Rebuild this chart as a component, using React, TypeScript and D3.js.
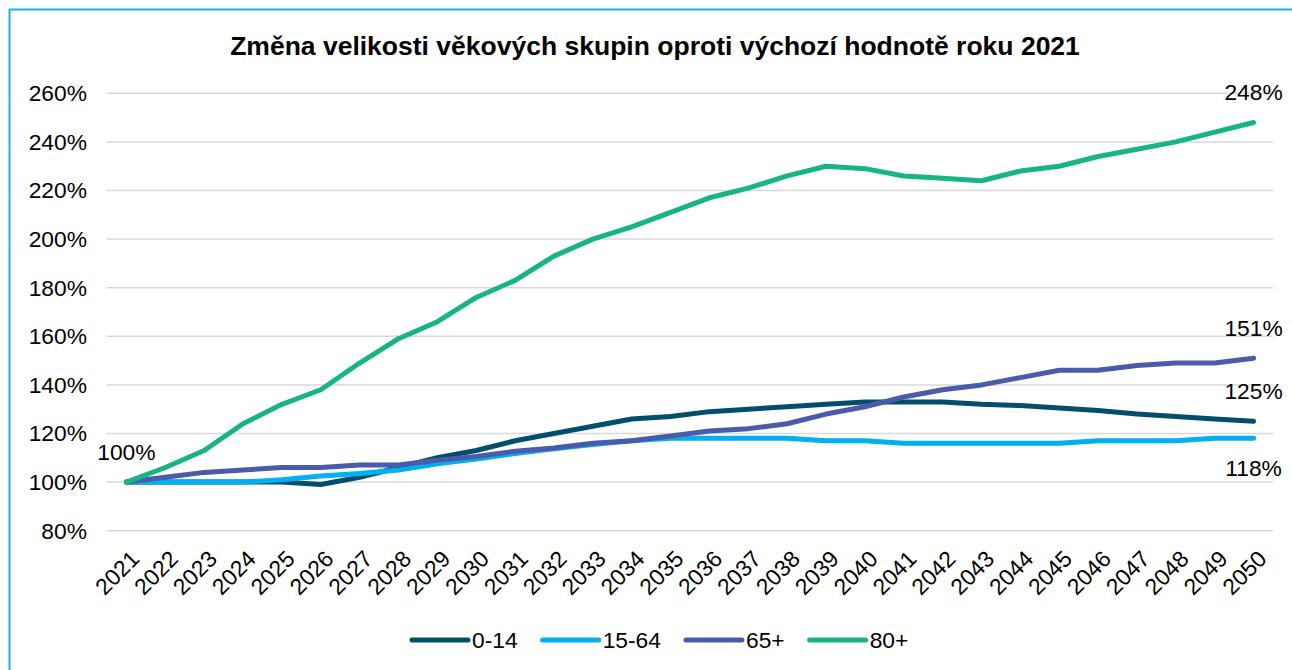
import React, { useEffect, useRef } from "react";
import * as d3 from "d3";

const years = [
  "2021","2022","2023","2024","2025","2026","2027","2028","2029","2030",
  "2031","2032","2033","2034","2035","2036","2037","2038","2039","2040",
  "2041","2042","2043","2044","2045","2046","2047","2048","2049","2050",
];

const age0_14 = [100,100,100,100,100,99,102,106,110,113,117,120,123,126,127,129,130,131,132,133,133,133,132,131.5,130.5,129.5,128,127,126,125];
const age15_64 = [100,100,100,100,101,102.5,103.5,105,107.5,109.5,111.8,113.7,115.5,117,118,118,118,118,117,117,116,116,116,116,116,117,117,117,118,118];
const age65 = [100,102,104,105,106,106,107,107,109,110.5,112.7,114,116,117,119,121,122,124,128,131,135,138,140,143,146,146,148,149,149,151];
const age80 = [100,106,113,124,132,138,149,159,166,176,183,193,200,205,211,217,221,226,230,229,226,225,224,228,230,234,237,240,244,248];

const seriesNames = ["0-14", "15-64", "65+", "80+"];
const seriesColors = ["#034E6D", "#00B0F0", "#4A5BAB", "#18B584"];
const seriesValues = [age0_14, age15_64, age65, age80];

const yTicks = [80, 100, 120, 140, 160, 180, 200, 220, 240, 260];

const title = "Změna velikosti věkových skupin oproti výchozí hodnotě roku 2021";

// end labels: [series index, year index, offset direction (-1 above, 1 below)]
const pointLabels: [number, number, number][] = [
  [0, 0, -1],
  [3, 29, -1],
  [2, 29, -1],
  [0, 29, -1],
  [1, 29, 1],
];

const W = 1292;
const H = 670;
const FONT = "'Liberation Sans', Arial, sans-serif";

export default function App() {
  const ref = useRef<SVGSVGElement | null>(null);

  useEffect(() => {
    const svg = d3.select(ref.current!);
    svg.selectAll("*").remove();

    const x = d3.scalePoint<string>().domain(years).range([107, 1273]).padding(0.5);
    const y = d3.scaleLinear().domain([80, 260]).range([530.7, 93.3]);

    // frame
    svg.append("rect")
      .attr("x", 9.5).attr("y", 9.5)
      .attr("width", W + 20).attr("height", H + 20)
      .attr("fill", "#fff")
      .attr("stroke", "#1FB2EF").attr("stroke-width", 2);

    // title
    svg.append("text")
      .attr("x", 655).attr("y", 55)
      .attr("text-anchor", "middle")
      .attr("font-family", FONT).attr("font-weight", "bold")
      .attr("font-size", 26.5).attr("fill", "#000")
      .text(title);

    // gridlines
    svg.append("g").selectAll("line").data(yTicks).join("line")
      .attr("x1", 107).attr("x2", 1273)
      .attr("y1", (d) => y(d)).attr("y2", (d) => y(d))
      .attr("stroke", "#D9D9D9").attr("stroke-width", 1.5);

    // y labels
    svg.append("g").selectAll("text").data(yTicks).join("text")
      .attr("x", 87).attr("y", (d) => y(d))
      .attr("dy", "0.35em")
      .attr("text-anchor", "end")
      .attr("font-family", FONT).attr("font-size", 22.8).attr("fill", "#000")
      .text((d) => `${d}%`);

    // x labels
    svg.append("g").selectAll("text").data(years).join("text")
      .attr("transform", (d) => `translate(${x(d)! + 3},${549}) rotate(-45)`)
      .attr("text-anchor", "end")
      .attr("dy", "0.7em")
      .attr("font-family", FONT).attr("font-size", 22.8).attr("fill", "#000")
      .text((d) => d);

    // lines
    const line = d3.line<number>()
      .x((_, i) => x(years[i])!)
      .y((d) => y(d));
    svg.append("g").selectAll("path").data(seriesValues).join("path")
      .attr("d", (d) => line(d))
      .attr("fill", "none")
      .attr("stroke", (_, i) => seriesColors[i])
      .attr("stroke-width", 5)
      .attr("stroke-linecap", "round")
      .attr("stroke-linejoin", "round");

    // point labels
    svg.append("g").selectAll("text").data(pointLabels).join("text")
      .attr("x", (d) => x(years[d[1]])!)
      .attr("y", (d) => y(seriesValues[d[0]][d[1]]) + d[2] * 30)
      .attr("dy", "0.35em")
      .attr("text-anchor", "middle")
      .attr("font-family", FONT).attr("font-size", 22.8).attr("fill", "#000")
      .text((d) => `${Math.round(seriesValues[d[0]][d[1]])}%`);

    // legend
    const lg = svg.append("g");
    let cx = 412;
    const ly = 640;
    seriesNames.forEach((name, i) => {
      lg.append("line")
        .attr("x1", cx).attr("x2", cx + 56)
        .attr("y1", ly).attr("y2", ly)
        .attr("stroke", seriesColors[i]).attr("stroke-width", 5)
        .attr("stroke-linecap", "round");
      const t = lg.append("text")
        .attr("x", cx + 60).attr("y", ly).attr("dy", "0.35em")
        .attr("font-family", FONT).attr("font-size", 22.8).attr("fill", "#000")
        .text(name);
      const tw = (t.node() as SVGTextElement).getComputedTextLength();
      cx = cx + 60 + tw + 25;
    });
  }, []);

  return (
    <svg
      ref={ref}
      width={W}
      height={H}
      style={{ position: "absolute", left: 0, top: 0, display: "block" }}
    />
  );
}
